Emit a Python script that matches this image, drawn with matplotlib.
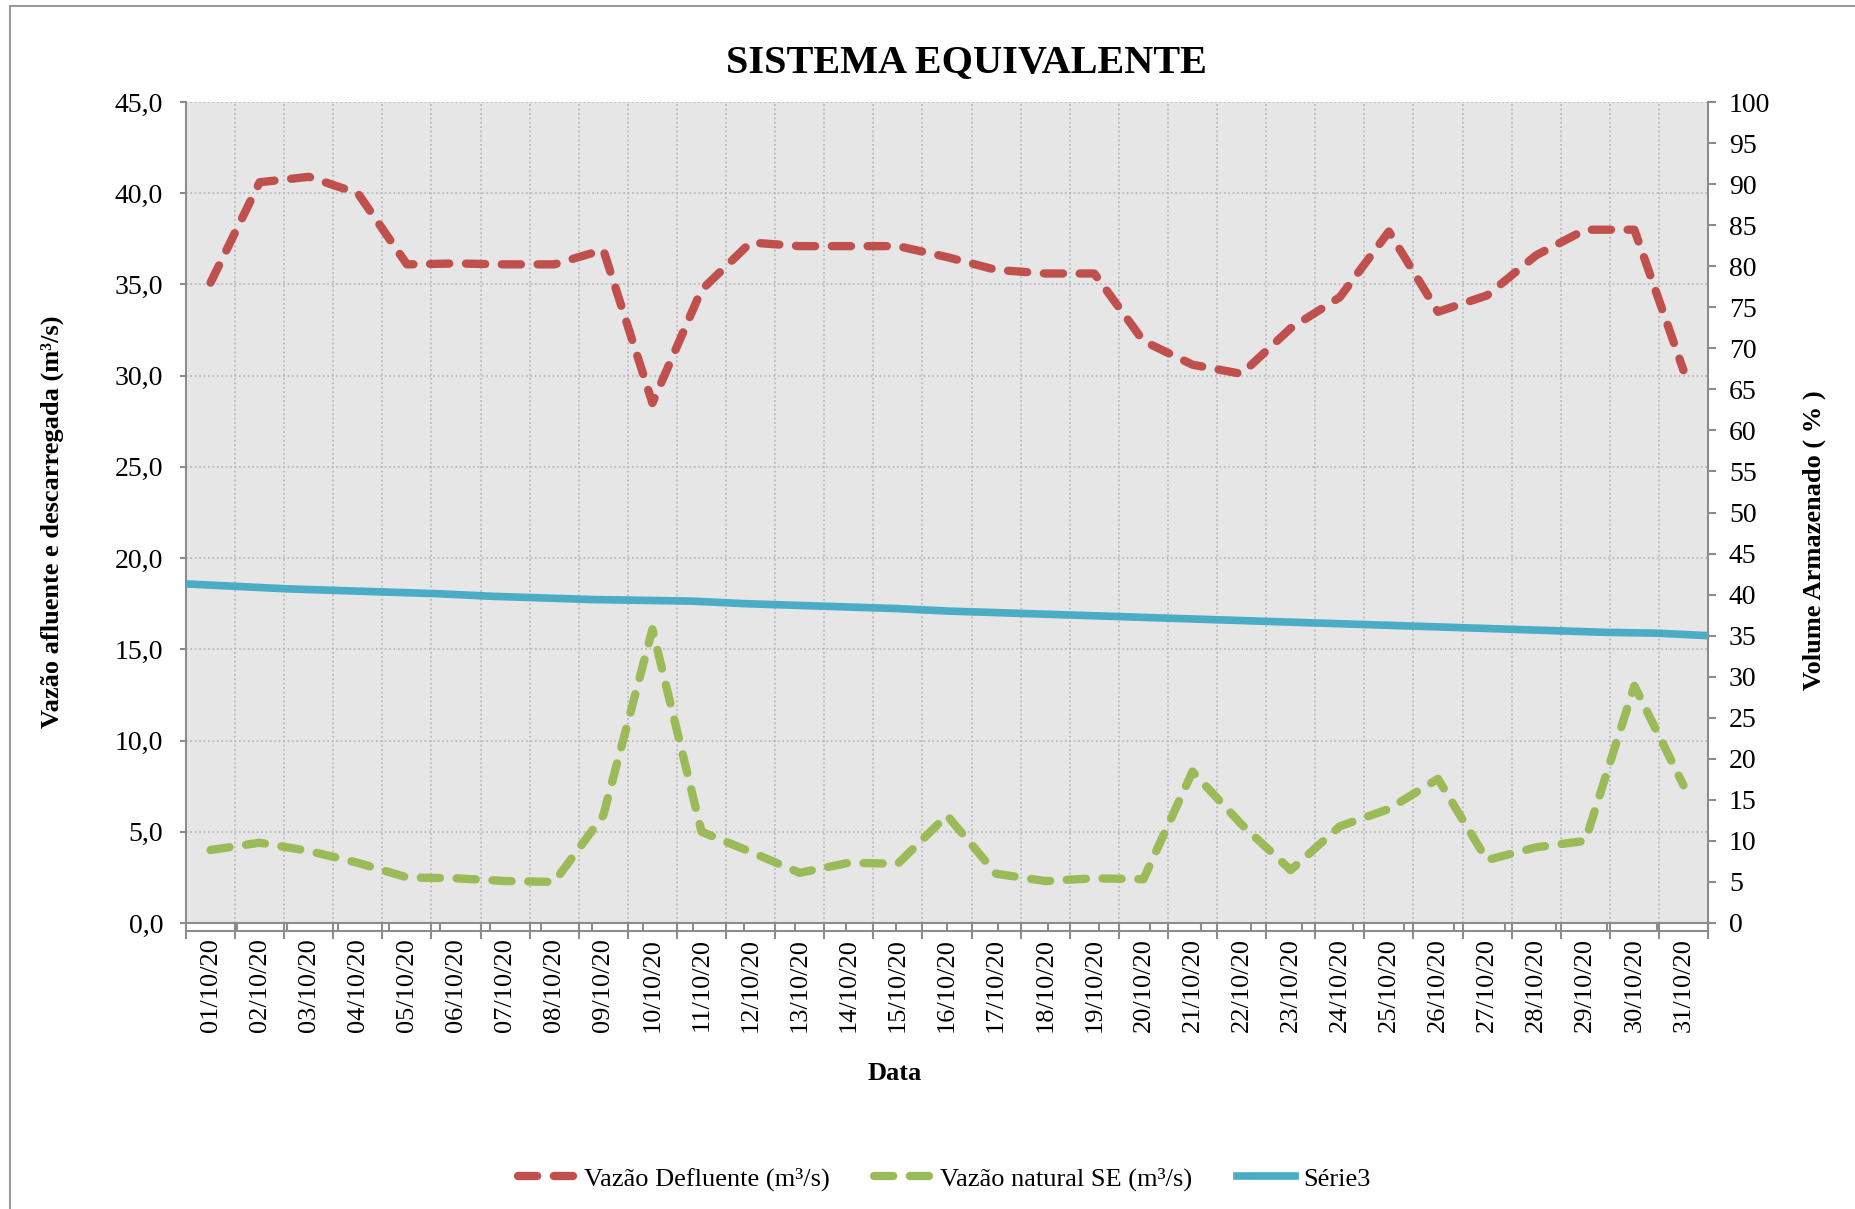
import matplotlib
matplotlib.use('Agg')
import matplotlib.pyplot as plt
from matplotlib.lines import Line2D
from matplotlib.patches import Rectangle
import numpy as np

plt.rcParams['font.family'] = ['Liberation Serif', 'DejaVu Serif']

datas = ['%02d/10/20' % d for d in range(1, 32)]
vazao_defluente = [35.1, 40.6, 40.9, 40.0, 36.1, 36.15, 36.1, 36.1, 36.9, 28.5, 34.7,
                   37.3, 37.1, 37.1, 37.1, 36.5, 35.8, 35.6, 35.6, 31.9, 30.6, 30.1,
                   32.6, 34.3, 37.9, 33.5, 34.4, 36.6, 38.0, 38.0, 30.3]
vazao_natural = [4.0, 4.4, 3.95, 3.3, 2.5, 2.45, 2.3, 2.25, 5.9, 16.1, 5.0,
                 3.9, 2.75, 3.3, 3.25, 5.9, 2.7, 2.3, 2.45, 2.4, 8.3, 5.4,
                 2.9, 5.3, 6.25, 7.9, 3.45, 4.15, 4.5, 13.0, 7.55]
volume = [41.3, 41.0, 40.7, 40.5, 40.3, 40.1, 39.8, 39.6, 39.4, 39.3, 39.2,
          38.9, 38.7, 38.5, 38.3, 38.0, 37.8, 37.6, 37.4, 37.2, 37.0, 36.8,
          36.6, 36.4, 36.2, 36.0, 35.8, 35.6, 35.4, 35.3, 35.0]
left_ticks = np.arange(0, 46, 5)
right_ticks = np.arange(0, 101, 5)

c_red = '#C0504D'
c_green = '#9BBB59'
c_blue = '#4BACC6'
c_axis = '#8C8C8C'
traco = (2.3, 2.0)

W, H = 1856, 1209
fig = plt.figure(figsize=(W / 100, H / 100), dpi=100)
ax = fig.add_axes([186 / W, 1 - 923 / H, (1708 - 186) / W, (923 - 102) / H])
ax.set_facecolor('#E6E6E6')

x = np.arange(len(datas))
ax.plot(x, vazao_defluente, color=c_red, lw=6, dashes=traco,
        dash_capstyle='round', zorder=3)
ax.plot(x, vazao_natural, color=c_green, lw=6, dashes=traco,
        dash_capstyle='round', zorder=3)

ax.set_xlim(-0.5, len(datas) - 0.5)
ax.set_ylim(0, 45)
ax.set_yticks(left_ticks)
ax.set_yticklabels([('%.1f' % v).replace('.', ',') for v in left_ticks], fontsize=20)
ax.set_xticks(x)
ax.set_xticklabels(datas, rotation=90, fontsize=19)
ax.set_xticks(np.arange(-0.5, len(datas), 1), minor=True)
ax.tick_params(axis='x', which='major', length=0, pad=11)
ax.tick_params(axis='x', which='minor', length=11.5, width=1.5, color=c_axis, direction='out')
ax.tick_params(axis='y', length=4.5, width=1.5, color=c_axis, pad=12)
ax.grid(axis='y', which='major', linestyle=':', color='#B4B4B4', lw=1.2)
ax.grid(axis='x', which='minor', linestyle=':', color='#B4B4B4', lw=1.2)
for s in ['top', 'right']:
    ax.spines[s].set_visible(False)
for s in ['left', 'bottom']:
    ax.spines[s].set_color(c_axis)
    ax.spines[s].set_linewidth(1.5)

# eixo secundario (volume armazenado)
ax2 = ax.twinx()
ax2.set_ylim(0, 100)
ax2.set_yticks(right_ticks)
ax2.set_yticklabels([str(v) for v in right_ticks], fontsize=20)
ax2.tick_params(axis='y', length=6, width=1.5, color=c_axis, pad=9)
for s in ['top', 'left', 'bottom']:
    ax2.spines[s].set_visible(False)
ax2.spines['right'].set_color(c_axis)
ax2.spines['right'].set_linewidth(1.5)

ax3 = ax2.twiny()
ax3.plot(np.arange(len(volume)), volume, color=c_blue, lw=5.5, solid_capstyle='butt', zorder=4)
ax3.set_xlim(0, len(volume) - 1)
ax3.xaxis.tick_bottom()
ax3.set_xticks(np.arange(len(volume)))
ax3.set_xticklabels([])
ax3.spines['bottom'].set_position(('outward', 6))
ax3.spines['bottom'].set_color(c_axis)
ax3.spines['bottom'].set_linewidth(1.5)
ax3.tick_params(axis='x', direction='in', length=6, width=1.5, color=c_axis)
for s in ['top', 'left', 'right']:
    ax3.spines[s].set_visible(False)

fig.text(966 / W, 1 - 63 / H, 'SISTEMA EQUIVALENTE', fontsize=29, fontweight='bold',
         ha='center', va='center')
fig.text(52 / W, 1 - 522 / H, 'Vazão afluente e descarregada (m³/s)', fontsize=19,
         fontweight='bold', rotation=90, ha='center', va='center')
fig.text(1814 / W, 1 - 540 / H, 'Volume Armazenado ( % )', fontsize=19,
         fontweight='bold', rotation=90, ha='center', va='center')
fig.text(895 / W, 1 - 1073 / H, 'Data', fontsize=19, fontweight='bold',
         ha='center', va='center')

handles = [Line2D([], [], color=c_red, lw=6, dashes=traco, dash_capstyle='round'),
           Line2D([], [], color=c_green, lw=6, dashes=traco, dash_capstyle='round'),
           Line2D([], [], color=c_blue, lw=5.5)]
fig.legend(handles, ['Vazão Defluente (m³/s)', 'Vazão natural SE (m³/s)', 'Série3'],
           loc='center', bbox_to_anchor=(944 / W, 1 - 1179 / H), ncol=3, frameon=False,
           fontsize=19, handlelength=2.2, handletextpad=0.3, columnspacing=1.7)

fig.add_artist(Rectangle((10 / W, -0.05), 2, 1.05 - 6 / H, transform=fig.transFigure,
                         fill=False, edgecolor='#9A9A9A', lw=1.5))

plt.savefig('out.png', dpi=100)
